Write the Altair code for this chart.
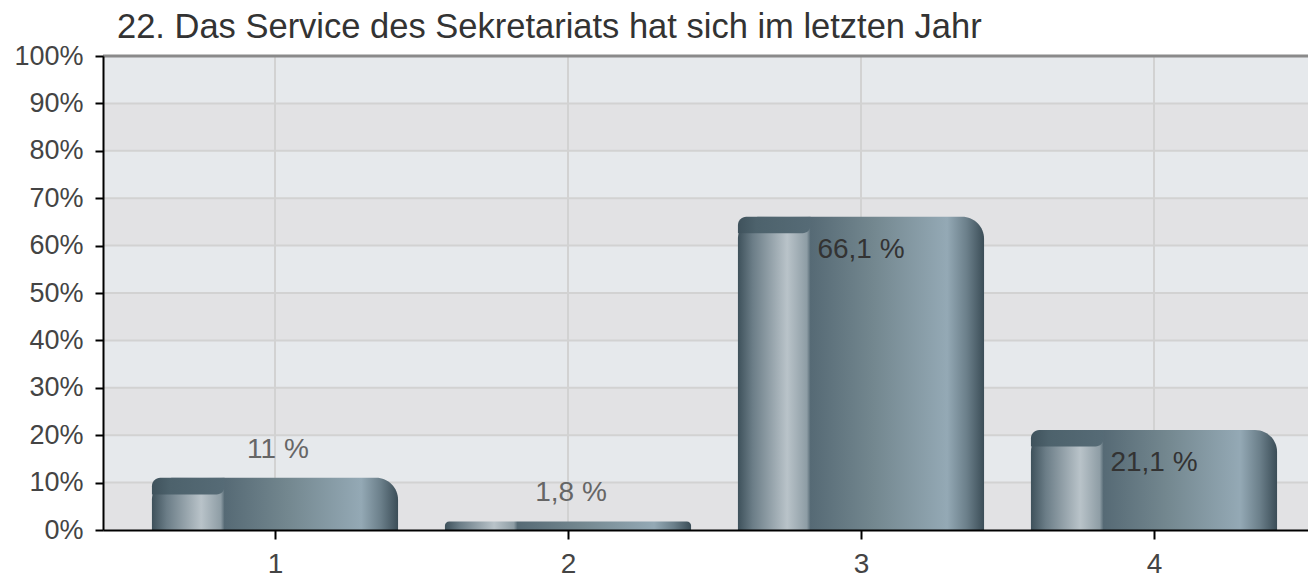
import altair as alt
import pandas as pd

categories = [1, 2, 3, 4]
values = [11.0, 1.8, 66.1, 21.1]
labels = ["11 %", "1,8 %", "66,1 %", "21,1 %"]
y_ticks = [0, 10, 20, 30, 40, 50, 60, 70, 80, 90, 100]
title_text = "22. Das Service des Sekretariats hat sich im letzten Jahr"

FONT = "Liberation Sans"
HALF = 0.42

bars = pd.DataFrame({"cat": categories, "value": values, "label": labels})
bands = pd.DataFrame({"lo": y_ticks[:-1], "hi": y_ticks[1:]})
bands["shade"] = ["dark" if (v // 10) % 2 == 0 else "light" for v in bands["lo"]]

xscale = alt.Scale(domain=[0.413, 4.5256], nice=False, zero=False)
yscale = alt.Scale(domain=[0, 100], nice=False)

X_AX = alt.Axis(
    title=None, values=categories, format="d", grid=False, zindex=2,
    domainColor="#000000", domainWidth=2, tickColor="#000000", tickWidth=2, tickSize=9,
    labelFont=FONT, labelFontSize=28, labelColor="#444444", labelPadding=11,
)
Y_AX = alt.Axis(
    title=None, values=y_ticks, labelExpr="datum.value + '%'", grid=False, zindex=2,
    domainColor="#000000", domainWidth=2, tickColor="#000000", tickWidth=2, tickSize=8,
    labelFont=FONT, labelFontSize=27, labelColor="#444444", labelPadding=12,
)


def X(field):
    return alt.X(field, scale=xscale, axis=X_AX)


def Y(field):
    return alt.Y(field, scale=yscale, axis=Y_AX)


band_layer = alt.Chart(bands).mark_rect().encode(
    x=alt.value(0), x2=alt.value(1205),
    y=Y("lo:Q"),
    y2="hi:Q",
    color=alt.Color("shade:N", scale=alt.Scale(domain=["light", "dark"], range=["#e6e9ec", "#e2e2e4"]), legend=None),
)

grid_layer = alt.Chart(bars).mark_rule(color="#d2d2d2", strokeWidth=2).encode(
    x=X("cat:Q"),
)

hgrid = alt.Chart(pd.DataFrame({"t": y_ticks[1:-1]})).mark_rule(color="#d2d2d2", strokeWidth=2).encode(
    y=Y("t:Q"),
)

bar_grad = alt.LinearGradient(
    gradient="linear", x1=0, x2=1, y1=0, y2=0,
    stops=[
        alt.GradientStop(offset=0.0, color="#3e515b"),
        alt.GradientStop(offset=0.06, color="#6b7d87"),
        alt.GradientStop(offset=0.20, color="#b9c3c9"),
        alt.GradientStop(offset=0.28, color="#8e9da5"),
        alt.GradientStop(offset=0.295, color="#566a75"),
        alt.GradientStop(offset=0.55, color="#73878f"),
        alt.GradientStop(offset=0.85, color="#94a9b5"),
        alt.GradientStop(offset=0.93, color="#6b7f8a"),
        alt.GradientStop(offset=1.0, color="#3b4d57"),
    ],
)

base = alt.Chart(bars).transform_calculate(
    x1=f"datum.cat - {HALF}", x2=f"datum.cat + {HALF}",
    xc=f"datum.cat - {HALF} + {2*HALF*0.295}",
    cap=f"datum.value - 3.5",
)

bar_layer = base.mark_bar(color=bar_grad, cornerRadiusTopLeft=22, cornerRadiusTopRight=22).encode(
    x=X("x1:Q"),
    x2="x2:Q",
    y=Y("value:Q"),
    y2=alt.datum(0),
)

cap_grad = alt.LinearGradient(
    gradient="linear", x1=0, x2=1, y1=0, y2=0,
    stops=[
        alt.GradientStop(offset=0.0, color="#3f525c"),
        alt.GradientStop(offset=0.25, color="#4d626c"),
        alt.GradientStop(offset=1.0, color="#566b76"),
    ],
)

cap_layer = base.transform_filter("datum.value > 5").mark_bar(
    color=cap_grad, cornerRadiusTopLeft=22, cornerRadiusBottomRight=8
).encode(
    x=X("x1:Q"),
    x2="xc:Q",
    y=Y("value:Q"),
    y2="cap:Q",
)

text_out = alt.Chart(bars).transform_filter("datum.value < 15").mark_text(
    font=FONT, fontSize=28, color="#666666", dy=-28, dx=3, baseline="middle"
).encode(
    x=X("cat:Q"),
    y=Y("value:Q"),
    text="label:N",
)

text_in = alt.Chart(bars).transform_filter("datum.value >= 15").mark_text(
    font=FONT, fontSize=28, color="#333333", dy=33, baseline="middle"
).encode(
    x=X("cat:Q"),
    y=Y("value:Q"),
    text="label:N",
)

top_line = alt.Chart(pd.DataFrame({"t": [100]})).mark_rule(color="#8a8a8a", strokeWidth=3).encode(
    y=Y("t:Q"),
)

chart = alt.layer(
    band_layer, hgrid, grid_layer, bar_layer, cap_layer, text_out, text_in, top_line
).properties(
    width=1205, height=474,
    autosize=alt.AutoSizeParams(type="none"),
    padding={"left": 95, "top": 48, "right": 0, "bottom": 54},
    title=alt.TitleParams(title_text, font=FONT, fontSize=34.5, fontWeight="normal", color="#333333",
                          anchor="start", offset=-3, dx=103),
).configure_view(stroke=None).configure(background="white")

chart.save("out.html", embed_options={"renderer": "svg", "actions": False})
